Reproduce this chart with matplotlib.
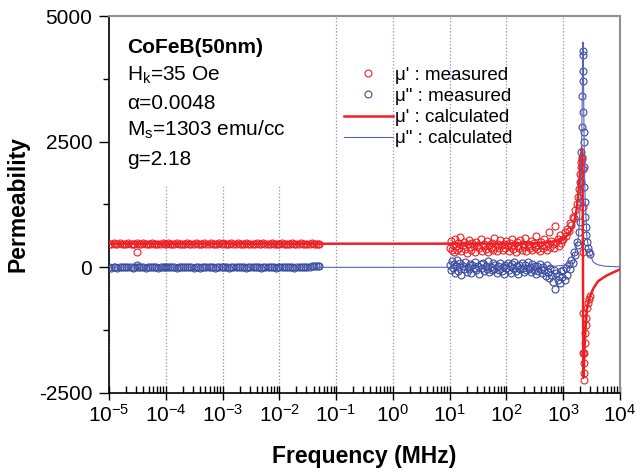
import matplotlib
matplotlib.use('Agg')
import matplotlib.pyplot as plt
from matplotlib.lines import Line2D
from matplotlib.patches import Rectangle
from matplotlib.ticker import LogLocator, MultipleLocator, NullFormatter

plt.rcParams['font.family'] = ['Liberation Sans', 'DejaVu Sans']
plt.rcParams['mathtext.fontset'] = 'custom'
plt.rcParams['mathtext.rm'] = 'Liberation Sans'
plt.rcParams['mathtext.it'] = 'Liberation Sans:italic'
plt.rcParams['mathtext.bf'] = 'Liberation Sans:bold'
plt.rcParams['axes.unicode_minus'] = False

# measured, low frequency sweep (MHz)
f_low = [1.0e-5, 1.1e-5, 1.2e-5, 1.3e-5, 1.4e-5, 1.55e-5, 1.7e-5, 1.85e-5, 2.0e-5, 2.2e-5,
         2.4e-5, 2.6e-5, 2.8e-5, 3.1e-5, 3.4e-5, 3.7e-5, 4.0e-5, 4.4e-5, 4.8e-5, 5.2e-5,
         5.7e-5, 6.2e-5, 6.8e-5, 7.4e-5, 8.1e-5, 8.8e-5, 9.6e-5,
         1.0e-4, 1.1e-4, 1.2e-4, 1.3e-4, 1.4e-4, 1.55e-4, 1.7e-4, 1.85e-4, 2.0e-4, 2.2e-4,
         2.4e-4, 2.6e-4, 2.8e-4, 3.1e-4, 3.4e-4, 3.7e-4, 4.0e-4, 4.4e-4, 4.8e-4, 5.2e-4,
         5.7e-4, 6.2e-4, 6.8e-4, 7.4e-4, 8.1e-4, 8.8e-4, 9.6e-4,
         1.0e-3, 1.1e-3, 1.2e-3, 1.3e-3, 1.4e-3, 1.55e-3, 1.7e-3, 1.85e-3, 2.0e-3, 2.2e-3,
         2.4e-3, 2.6e-3, 2.8e-3, 3.1e-3, 3.4e-3, 3.7e-3, 4.0e-3, 4.4e-3, 4.8e-3, 5.2e-3,
         5.7e-3, 6.2e-3, 6.8e-3, 7.4e-3, 8.1e-3, 8.8e-3, 9.6e-3,
         1.0e-2, 1.1e-2, 1.2e-2, 1.3e-2, 1.4e-2, 1.55e-2, 1.7e-2, 1.85e-2, 2.0e-2, 2.2e-2,
         2.4e-2, 2.6e-2, 2.8e-2, 3.1e-2, 3.4e-2, 3.7e-2, 4.0e-2, 4.4e-2, 4.8e-2, 5.0e-2,
         3.1e-5]
mu1_low = [472, 468, 476, 470, 466, 474, 470, 472, 468, 474, 470, 466, 472, 476, 470, 468, 474, 470,
           466, 472, 476, 470, 468, 472, 466, 474, 470,
           468, 474, 470, 466, 472, 476, 470, 468, 472, 466, 474, 470, 472, 468, 474, 470, 466, 472,
           476, 470, 468, 474, 470, 466, 472, 476, 470,
           474, 470, 466, 472, 476, 470, 468, 474, 470, 466, 472, 476, 470, 468, 472, 466, 474, 470,
           468, 474, 470, 466, 472, 476, 470, 468, 472,
           470, 476, 468, 472, 470, 466, 474, 472, 468, 470, 474, 466, 472, 470, 468, 474, 470, 472,
           468, 470,
           310]
mu2_low = [2, -6, 4, 0, -4, 6, 2, 0, -2, 4, 0, -6, 2, 4, -2, 0, 6, -4, 2, 0, -2, 4, 0, -6, 2, 0, 4,
           0, 4, -2, 6, 0, -4, 2, 0, 4, -2, 0, 6, 2, -4, 0, 2, -6, 4, 0, 2, -2, 0, 4, -4, 2, 0, 6,
           -2, 0, 4, -4, 2, 0, 6, -2, 0, 4, 2, -6, 0, 2, 4, -2, 0, 6, -4, 2, 0, 4, -2, 0, 2, -4, 0,
           0, 2, -2, 4, 0, 6, 2, -4, 0, 4, 2, 6, 8, 10, 14, 20, 24, 26, 22, 18,
           40]

# measured, high frequency sweep (MHz)
f_high = [10, 10.5, 11, 11.5, 12, 12.5, 13, 13.5, 14, 14.5,
          15, 16, 17, 18, 19, 20, 21, 22, 23, 24,
          25, 26.5, 28, 29.5, 31, 33, 35, 37, 39, 41,
          43, 45, 47.5, 50, 52.5, 55, 58, 61, 64, 67,
          70, 74, 78, 82, 86, 90, 95,
          100, 105, 110, 115, 120, 126, 132, 138, 145, 152,
          160, 168, 176, 185, 194, 204, 214, 225, 236, 248,
          260, 273, 287, 301, 316, 332, 348, 365, 383, 402,
          422, 443, 465, 488, 512, 538, 565, 593, 622, 653,
          686, 720, 756, 794, 834, 876, 920, 966,
          1000, 1060, 1120, 1180, 1250, 1320, 1400, 1480, 1560, 1640,
          1720, 1800, 1870, 1940, 2000, 2050, 2100, 2140, 2170, 2200,
          2215, 2230, 2245, 2260, 2280, 2300, 2330, 2360, 2400, 2450,
          2500, 2570, 2650, 2750, 2850, 2950]
mu1_high = [380, 520, 350, 450, 300, 560, 420, 340, 480, 390,
            600, 330, 450, 510, 370, 290, 460, 540, 400, 350,
            480, 420, 310, 500, 440, 380, 560, 330, 420, 470,
            360, 520, 300, 440, 390, 480, 350, 580, 410, 330,
            470, 380, 540, 450, 350, 460, 390,
            520, 430, 330, 480, 410, 560, 360, 450, 300, 500,
            420, 380, 550, 340, 470, 400, 590, 320, 460, 430,
            380, 520, 350, 480, 410, 620, 370, 440, 330, 500,
            450, 390, 560, 420, 350, 480, 700, 400, 520, 460,
            380, 820, 500, 560, 430, 640, 480, 540,
            560, 700, 620, 760, 720, 880, 840, 1000, 980, 1150,
            1250, 1400, 1550, 1700, 1850, 2000, 2100, 2200, 2150, 1950,
            1200, 300, -900, -1700, -2240, -2100, -1900, -1700, -1500, -1300,
            -1150, -1000, -800, -700, -640, -580]
mu2_high = [40, -60, 120, -20, 60, -120, 20, 150, -80, 0,
            90, -150, 30, -40, 110, -90, 10, -30, 70, -110,
            40, -10, 100, -60, 20, -130, 60, -20, 90, -70,
            30, -40, 120, -100, 10, -50, 80, -30, 40, -120,
            20, -60, 90, -80, 10, -140, 50,
            -20, 80, -60, 30, -110, 60, -10, 100, -70, 20,
            -130, 50, -40, 90, -20, -90, 40, -60, 110, -30,
            0, -100, 60, -50, 20, -140, 30, -80, 70, -30,
            -120, 10, -60, -180, 40, -90, -220, -20, -150, -300,
            -60, -440, -120, -250, -180, -320, -80, -200,
            -60, -250, -20, -150, 60, -30, 150, 80, 300, 250,
            500, 450, 700, 900, 1300, 1700, 2300, 2800, 3400, 3900,
            4220, 4300, 3700, 3100, 2700, 2500, 2000, 1600, 1300, 1000,
            800, 650, 500, 380, 300, 260]

# calculated curves
f_calc = [1e-5, 1e-2, 1, 100, 300, 600, 1000, 1300, 1500, 1720,
          1840, 1920, 1990, 2030, 2100, 2120, 2170, 2180, 2200, 2230,
          2260, 2290, 2300, 2350, 2415, 2450, 2620, 2950, 3400, 4090,
          5000, 5900, 10000]
mu1_calc = [470, 470, 470, 472, 480, 500, 560, 680, 800, 1150,
            1450, 1700, 1950, 2150, 2320, 2370, 2300, 2200, 1500, 60,
            -2200, -2120, -2080, -1750, -1420, -1300, -820, -580, -420, -280,
            -210, -160, -40]
mu2_calc = [0, 0, 0, 2, 6, 15, 40, 90, 150, 400,
            580, 850, 1260, 1700, 2300, 2600, 3500, 3800, 4200, 4480,
            4200, 3500, 3200, 2260, 1500, 1300, 580, 260, 100, 50,
            30, 20, 10]

red = '#ee2024'
blue = '#3a4ba0'
blue_line = '#5565b5'

fig = plt.figure(figsize=(6.36, 4.72), dpi=100)
ax = fig.add_axes([0.1714, 0.1674, 0.8034, 0.7987])

mk = dict(ls='none', marker='o', mfc='none', ms=5, mew=0.8, zorder=3)
ax.plot(f_low, mu1_low, mec=red, **mk)
ax.plot(f_high, mu1_high, mec=red, **mk)
ax.plot(f_low, mu2_low, mec=blue, **mk)
ax.plot(f_high, mu2_high, mec=blue, **mk)
ax.plot(f_calc, mu1_calc, '-', color=red, lw=1.8, zorder=4)
ax.plot(f_calc, mu2_calc, '-', color=blue_line, lw=0.8, zorder=4)

ax.set_xscale('log')
ax.set_xlim(1e-5, 1e4)
ax.set_ylim(-2500, 5000)
ax.set_yticks([-2500, 0, 2500, 5000])
ax.yaxis.set_minor_locator(MultipleLocator(1250))
ax.xaxis.set_major_locator(LogLocator(base=10, numticks=20))
ax.xaxis.set_minor_locator(LogLocator(base=10, subs=range(2, 10), numticks=20))
ax.xaxis.set_minor_formatter(NullFormatter())

ax.grid(axis='x', which='major', ls=':', color='#8a8ad8', lw=0.9)

for s in ['top', 'right']:
    ax.spines[s].set_color('#909090')
    ax.spines[s].set_linewidth(1.5)
for s in ['left', 'bottom']:
    ax.spines[s].set_linewidth(1.2)

ax.tick_params(axis='x', which='major', direction='inout', length=10, width=1, labelsize=15, pad=3)
ax.tick_params(axis='x', which='minor', direction='in', length=5, width=1)
ax.tick_params(axis='y', which='major', direction='out', length=7, width=1, labelsize=15, pad=5)
ax.tick_params(axis='y', which='minor', direction='out', length=4, width=1)

ax.set_xlabel('Frequency (MHz)', fontsize=16.5, fontweight='bold', labelpad=14)
ax.set_ylabel('Permeability', fontsize=16.5, fontweight='bold', labelpad=7)

# white box behind the parameter text
ax.add_patch(Rectangle((0, 0.552), 0.374, 0.448, transform=ax.transAxes,
                       facecolor='white', edgecolor='none', zorder=2))
ax.text(0.035, 0.902, 'CoFeB(50nm)', transform=ax.transAxes, fontsize=15, fontweight='bold', zorder=5)
ax.text(0.035, 0.828, 'H$_\\mathregular{k}$=35 Oe', transform=ax.transAxes, fontsize=15, zorder=5)
ax.text(0.035, 0.753, 'α=0.0048', transform=ax.transAxes, fontsize=15, zorder=5)
ax.text(0.035, 0.682, 'M$_\\mathregular{s}$=1303 emu/cc', transform=ax.transAxes, fontsize=15, zorder=5)
ax.text(0.035, 0.605, 'g=2.18', transform=ax.transAxes, fontsize=15, zorder=5)

handles = [
    Line2D([], [], ls='none', marker='o', mfc='none', mec=red, ms=5, mew=0.8),
    Line2D([], [], ls='none', marker='o', mfc='none', mec=blue, ms=5, mew=0.8),
    Line2D([], [], color=red, lw=1.8),
    Line2D([], [], color=blue_line, lw=0.8),
]
labels = ["μ' : measured", 'μ" : measured', "μ' : calculated", 'μ" : calculated']
ax.legend(handles, labels, loc='upper left', bbox_to_anchor=(0.46, 0.866), frameon=False,
          fontsize=13.5, handlelength=2.6, handletextpad=0.1, labelspacing=0.22,
          borderpad=0, borderaxespad=0, numpoints=1)

fig.savefig('out.png', dpi=100)
